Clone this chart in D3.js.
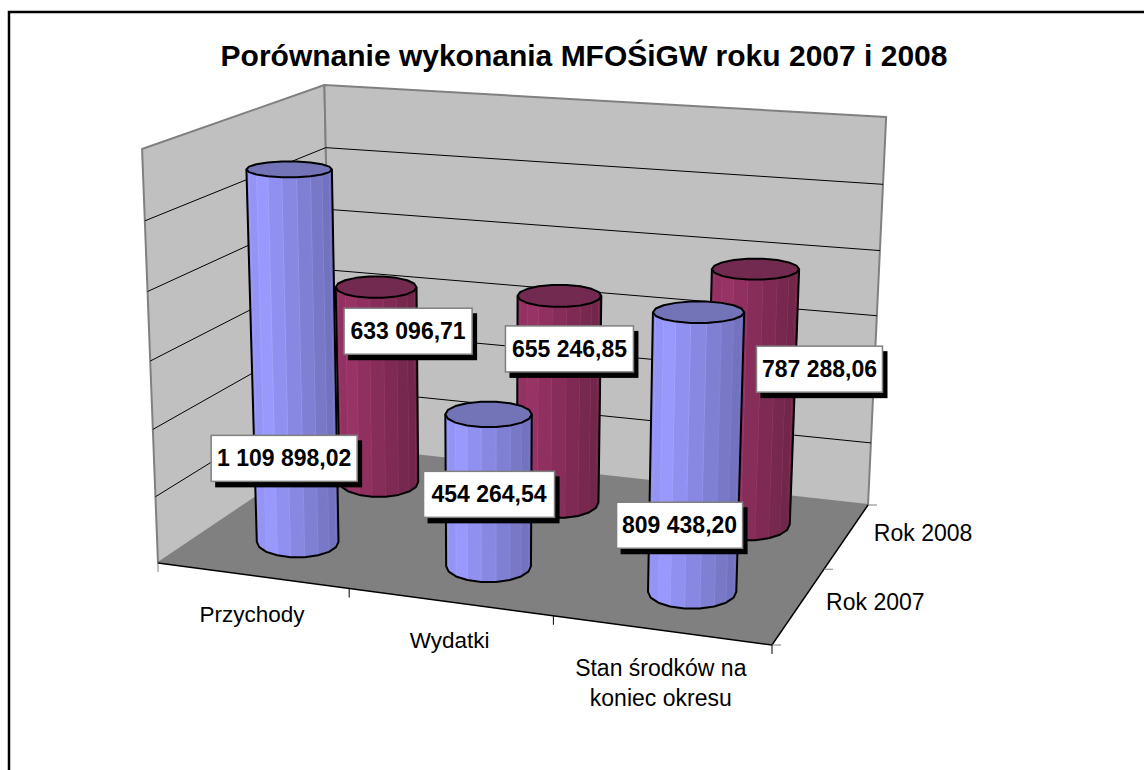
<!DOCTYPE html>
<html>
<head>
<meta charset="utf-8">
<script src="https://cdn.jsdelivr.net/npm/d3@7"></script>
<style>
  html, body { margin: 0; padding: 0; background: #fff; }
  svg { display: block; }
  text { font-family: "Liberation Sans", Arial, sans-serif; }
</style>
</head>
<body>
<svg></svg>
<script>
const width = 1144;
const height = 770;

const chartTitle = "Porównanie wykonania MFOŚiGW roku 2007 i 2008";
const categories = ["Przychody", "Wydatki", "Stan środków na koniec okresu"];
const seriesNames = ["Rok 2007", "Rok 2008"];
const values2007 = [1109898.02, 454264.54, 809438.20];
const values2008 = [633096.71, 655246.85, 787288.06];
const labels2007 = ["1 109 898,02", "454 264,54", "809 438,20"];
const labels2008 = ["633 096,71", "655 246,85", "787 288,06"];
const valueTicks = [0, 200000, 400000, 600000, 800000, 1000000, 1200000];

// rogi wykresu 3D na ekranie
const floorCorners = [[158, 563], [772, 645], [868, 505], [332, 446]];
const topCorners = [[141, 149], [786, 207], [885, 117], [324, 85]];

const svg = d3.select("svg").attr("width", width).attr("height", height);

// skale w "przestrzeni wykresu" 0..1
const scaleX = d3.scaleBand().domain(categories).range([0, 1]);
const scaleZ = d3.scaleBand().domain(seriesNames).range([0, 1]);
const scaleY = d3.scaleLinear().domain([0, 1200000]).range([0, 1]);

// homografia kwadratu jednostkowego na czworokat
function homography(q) {
  const [[x0, y0], [x1, y1], [x2, y2], [x3, y3]] = q;
  const dx1 = x1 - x2, dx2 = x3 - x2, sx = x0 - x1 + x2 - x3;
  const dy1 = y1 - y2, dy2 = y3 - y2, sy = y0 - y1 + y2 - y3;
  const det = dx1 * dy2 - dx2 * dy1;
  const g = (sx * dy2 - dx2 * sy) / det;
  const h = (dx1 * sy - sx * dy1) / det;
  const a = x1 - x0 + g * x1, b = x3 - x0 + h * x3;
  const d = y1 - y0 + g * y1, e = y3 - y0 + h * y3;
  return (u, v) => {
    const w = g * u + h * v + 1;
    return [(a * u + b * v + x0) / w, (d * u + e * v + y0) / w];
  };
}

const floorMap = homography(floorCorners);
const topMap = homography(topCorners);

// punkt (u, wysokosc t, v) na ekranie
// pionowe krawedzie rozchodza sie od x = 490
function project(u, t, v) {
  const p = floorMap(u, v), q = topMap(u, v);
  const s = t / (1 + 0.05 * (1 - t));
  return [p[0] + (p[0] - 490) * 0.048 * s, p[1] + (q[1] - p[1]) * s];
}

const line = d3.line();

function face(points, fill) {
  svg.append("path")
    .attr("d", line(points) + "Z")
    .attr("fill", fill)
    .attr("stroke", "#808080")
    .attr("stroke-width", 2)
    .attr("stroke-linejoin", "round");
}

function drawWalls() {
  face([project(0, 0, 0), project(0, 1, 0), project(0, 1, 1), project(0, 0, 1)], "#c0c0c0");
  face([project(0, 0, 1), project(0, 1, 1), project(1, 1, 1), project(1, 0, 1)], "#c0c0c0");

  // linie siatki
  valueTicks.slice(1, -1).forEach(tick => {
    const t = scaleY(tick);
    svg.append("path")
      .attr("d", line([project(0, t, 0), project(0, t, 1), project(1, t, 1)]))
      .attr("fill", "none")
      .attr("stroke", "#000")
      .attr("stroke-width", 1);
  });

  svg.append("path")
    .attr("d", line([project(0, 0, 0), project(1, 0, 0), project(1, 0, 1), project(0, 0, 1)]) + "Z")
    .attr("fill", "#808080");
}

function drawAxes() {
  svg.append("path")
    .attr("d", line([project(0, 0, 0), project(1, 0, 0), project(1, 0, 1)]))
    .attr("fill", "none")
    .attr("stroke", "#000")
    .attr("stroke-width", 1.5);

  const stepX = scaleX.step();
  d3.range(categories.length + 1).forEach(i => {
    const p = project(i * stepX, 0, 0);
    svg.append("line")
      .attr("x1", p[0]).attr("y1", p[1])
      .attr("x2", p[0]).attr("y2", p[1] + 9)
      .attr("stroke", i == 0 ? "#808080" : "#000");
  });

  const stepZ = scaleZ.step();
  d3.range(seriesNames.length + 1).forEach(i => {
    const p = project(1, 0, i * stepZ);
    svg.append("line")
      .attr("x1", p[0]).attr("y1", p[1])
      .attr("x2", p[0] + 9).attr("y2", p[1])
      .attr("stroke", "#808080");
  });

  // podpisy kategorii
  const catLines = [["Przychody"], ["Wydatki"], ["Stan środków na", "koniec okresu"]];
  categories.forEach((c, i) => {
    const p = project(scaleX(c) + scaleX.bandwidth() / 2, 0, 0);
    const txt = svg.append("text")
      .attr("text-anchor", "middle")
      .attr("font-size", i == 2 ? 23 : 22.5)
      .attr("fill", "#000");
    catLines[i].forEach((l, k) => {
      txt.append("tspan").attr("x", p[0]).attr("y", p[1] + 46 + k * 30).text(l);
    });
  });

  seriesNames.forEach(s => {
    const p = project(1, 0, scaleZ(s) + scaleZ.bandwidth() / 2);
    svg.append("text")
      .attr("x", p[0] + 27)
      .attr("y", p[1] + 5)
      .attr("font-size", 23)
      .attr("fill", "#000")
      .text(s);
  });
}

// walec sklada sie z wielu scianek, jak w Excelu
function drawCylinder(cat, ser, value, colors) {
  const n = 18;
  const u = scaleX(cat) + scaleX.bandwidth() / 2;
  const v = scaleZ(ser) + scaleZ.bandwidth() / 2;
  const t = scaleY(value);
  const base = project(u, 0, v);
  const top = project(u, t, v);
  const a = project(u - scaleX.bandwidth() / 2, 0, v);
  const b = project(u + scaleX.bandwidth() / 2, 0, v);
  const rx = (b[0] - a[0]) * 0.13 + 16.8;
  const rxTop = rx * (1 + 0.05 * t);
  const ryBase = rx * 0.38;
  const ryTop = rx * (0.38 - 0.2 * t);

  const rimBase = th => [base[0] + rx * Math.cos(th), base[1] + ryBase * Math.sin(th)];
  const rimTop = th => [top[0] + rxTop * Math.cos(th), top[1] + ryTop * Math.sin(th)];
  const angles = d3.range(n + 1).map(i => Math.PI * 2 * i / n);
  const front = angles.filter(th => th <= Math.PI + 0.01);
  const shade = d3.scaleLinear()
    .domain([-1, -0.7, 1])
    .range(colors.side)
    .interpolate(d3.interpolateRgb);

  for (let i = 0; i < front.length - 1; i++) {
    const th0 = front[i], th1 = front[i + 1];
    const c = shade(Math.cos((th0 + th1) / 2));
    svg.append("path")
      .attr("d", line([rimBase(th0), rimBase(th1), rimTop(th1), rimTop(th0)]) + "Z")
      .attr("fill", c)
      .attr("stroke", d3.color(c).brighter(0.25))
      .attr("stroke-width", 0.6);
  }

  const lastAngle = front[front.length - 1];
  const outline = [rimTop(front[0])]
    .concat(front.map(rimBase))
    .concat([rimTop(lastAngle)]);
  svg.append("path")
    .attr("d", line(outline))
    .attr("fill", "none")
    .attr("stroke", "#000")
    .attr("stroke-width", 2)
    .attr("stroke-linejoin", "round");

  svg.append("path")
    .attr("d", line(angles.map(rimTop)) + "Z")
    .attr("fill", colors.top)
    .attr("stroke", "#000")
    .attr("stroke-width", 2)
    .attr("stroke-linejoin", "round");

  return top;
}

function drawLabel(anchor, text, shift) {
  const w = shift[2], h = 46;
  const x = anchor[0] + shift[0], y = anchor[1] + shift[1];
  svg.append("rect")
    .attr("x", x + 4).attr("y", y + 5)
    .attr("width", w + 1).attr("height", h + 1)
    .attr("fill", "#000");
  svg.append("rect")
    .attr("x", x).attr("y", y)
    .attr("width", w).attr("height", h)
    .attr("fill", "#fff")
    .attr("stroke", "#808080")
    .attr("stroke-width", 1.5);
  svg.append("text")
    .attr("x", x + w / 2)
    .attr("y", y + h / 2 + 8)
    .attr("text-anchor", "middle")
    .attr("font-size", 23)
    .attr("font-weight", "bold")
    .attr("fill", "#000")
    .text(text);
}

const blue = { side: ["#9090f0", "#9999ff", "#6f6fb8"], top: "#7373b8" };
const maroon = { side: ["#8f2f60", "#993366", "#6e2548"], top: "#732a50" };

// ramka (tylko lewa i gorna krawedz sa widoczne) i tytul
svg.append("path")
  .attr("d", line([[9, height], [9, 12], [width, 12]]))
  .attr("fill", "none")
  .attr("stroke", "#000")
  .attr("stroke-width", 2.5);

svg.append("text")
  .attr("x", 584)
  .attr("y", 66)
  .attr("text-anchor", "middle")
  .attr("font-size", 30)
  .attr("font-weight", "bold")
  .attr("fill", "#000")
  .text(chartTitle);

drawWalls();
drawAxes();

const tops2008 = categories.map((c, i) => drawCylinder(c, seriesNames[1], values2008[i], maroon));
const tops2007 = categories.map((c, i) => drawCylinder(c, seriesNames[0], values2007[i], blue));

// przesuniecia etykiet wzgledem gornej podstawy walca
const shift2007 = [[-78, 266, 146], [-65, 57, 131], [-82, 190, 126]];
const shift2008 = [[-32, 21, 128], [-54, 30, 128], [1, 77, 126]];

labels2008.forEach((l, i) => drawLabel(tops2008[i], l, shift2008[i]));
labels2007.forEach((l, i) => drawLabel(tops2007[i], l, shift2007[i]));
</script>
</body>
</html>
